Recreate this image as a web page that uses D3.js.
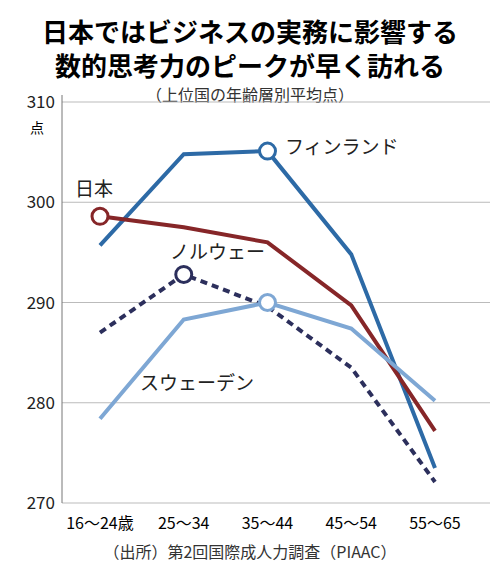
<!DOCTYPE html>
<html><head><meta charset="utf-8">
<script src="https://cdn.jsdelivr.net/npm/d3@7"></script>
<style>body{margin:0;background:#fff}text{font-family:"Noto Sans CJK JP",sans-serif}</style>
</head><body><svg id="c" width="500" height="576"></svg>
<script>
const categories=["16～24歳","25～34","35～44","45～54","55～65"];
const finland=[295.7,304.8,305.1,294.8,273.5];
const japan=[298.6,297.5,296.0,289.7,277.2];
const norway=[287.0,292.8,289.6,283.5,272.1];
const sweden=[278.4,288.3,290.0,287.4,280.2];
const yTicks=[270,280,290,300,310];
const series=[
 {name:"フィンランド",v:finland,c:"#2d6aa6",dash:null,mark:2,lx:285,ly:154},
 {name:"日本",v:japan,c:"#862628",dash:null,mark:0,lx:75,ly:196},
 {name:"ノルウェー",v:norway,c:"#2c2f5c",dash:"7,5",mark:1,lx:170,ly:259},
 {name:"スウェーデン",v:sweden,c:"#7ea7d4",dash:null,mark:2,lx:140,ly:390}];
const svg=d3.select("#c");
const x=d3.scalePoint().domain(categories).range([100,435]);
const y=d3.scaleLinear().domain([270,310]).range([503,102]);
svg.append("text").attr("x",250).attr("y",42).attr("text-anchor","middle").attr("font-size",26).attr("font-weight","bold").text("日本ではビジネスの実務に影響する");
svg.append("text").attr("x",250).attr("y",76).attr("text-anchor","middle").attr("font-size",26).attr("font-weight","bold").text("数的思考力のピークが早く訪れる");
svg.append("text").attr("x",250).attr("y",101).attr("text-anchor","middle").attr("font-size",16).attr("fill","#333").text("（上位国の年齢層別平均点）");
svg.append("g").selectAll("line").data(yTicks).join("line").attr("x1",62).attr("x2",490).attr("y1",d=>y(d)).attr("y2",d=>y(d)).attr("stroke","#bbb").attr("stroke-width",1);
svg.append("line").attr("x1",62).attr("x2",62).attr("y1",95).attr("y2",503).attr("stroke","#777");
svg.append("g").selectAll("text").data(yTicks).join("text").attr("x",55).attr("y",d=>y(d)+6).attr("text-anchor","end").attr("font-size",17).attr("fill","#222").text(d=>d);
svg.append("text").attr("x",30).attr("y",133).attr("font-size",14).text("点");
svg.append("g").selectAll("text").data(categories).join("text").attr("x",d=>x(d)).attr("y",529).attr("text-anchor","middle").attr("font-size",16).text(d=>d);
svg.append("text").attr("x",250).attr("y",558).attr("text-anchor","middle").attr("font-size",16).attr("fill","#333").text("（出所）第2回国際成人力調査（PIAAC）");
const line=d3.line().x((d,i)=>x(categories[i])).y(d=>y(d));
series.forEach(s=>{
 svg.append("path").attr("d",line(s.v)).attr("fill","none").attr("stroke",s.c).attr("stroke-width",4).attr("stroke-dasharray",s.dash);
 svg.append("circle").attr("cx",x(categories[s.mark])).attr("cy",y(s.v[s.mark])).attr("r",8).attr("fill","#fff").attr("stroke",s.c).attr("stroke-width",3);
 svg.append("text").attr("x",s.lx).attr("y",s.ly).attr("font-size",19).attr("fill","#222").text(s.name);
});
</script></body></html>
